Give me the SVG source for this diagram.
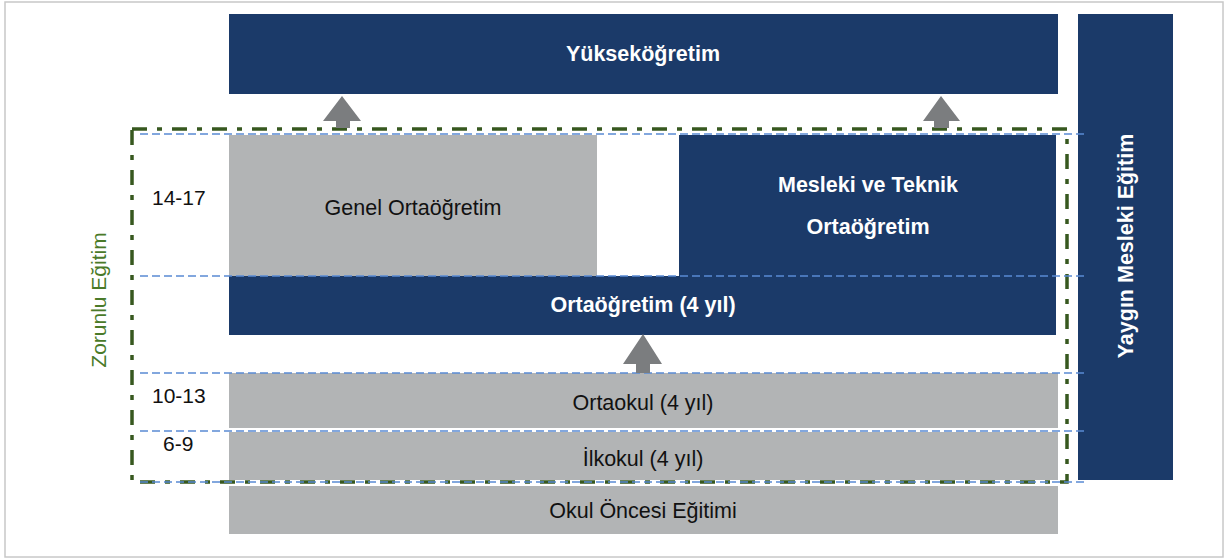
<svg xmlns="http://www.w3.org/2000/svg" width="1225" height="558" viewBox="0 0 1225 558">
<style>
.navy{fill:#1b3a69}
.gray{fill:#b2b4b5}
.arrow{fill:#7b7d7f}
.blue{stroke:#5a8ad4;stroke-width:1.3;stroke-dasharray:8 4;fill:none}
.green{stroke:#37581f;stroke-width:3.5;stroke-dasharray:15 10 5 10;fill:none}
.tw{font-family:"Liberation Sans",Arial,sans-serif;font-size:21.5px;font-weight:bold;fill:#ffffff;text-anchor:middle}
.tb{font-family:"Liberation Sans",Arial,sans-serif;font-size:21.5px;fill:#111111;text-anchor:middle}
.age{font-family:"Liberation Sans",Arial,sans-serif;font-size:21px;fill:#111111}
</style>
<rect x="5" y="2" width="1218" height="555" fill="#ffffff" stroke="#c8c8c8" stroke-width="1.5"/>

<g id="yuksek">
<rect class="navy" x="229" y="14" width="829" height="80"/>
<text class="tw" x="643" y="61">Yükseköğretim</text>
</g>
<g id="yaygin">
<rect class="navy" x="1078" y="14" width="95" height="466"/>
<text class="tw" transform="translate(1133,246) rotate(-90)" x="0" y="0">Yaygın Mesleki Eğitim</text>
</g>
<g id="ortaogretim">
<path class="navy" d="M679,135 H1056 V335 H229 V276 H679 Z"/>
<text class="tw" x="643" y="312">Ortaöğretim (4 yıl)</text>
<text class="tw" x="868" y="192">Mesleki ve Teknik</text>
<text class="tw" x="868" y="234">Ortaöğretim</text>
</g>
<g id="genel">
<rect class="gray" x="229" y="135" width="368" height="141"/>
<text class="tb" x="413" y="215">Genel Ortaöğretim</text>
</g>
<g id="ortaokul">
<rect class="gray" x="229" y="373" width="829" height="55"/>
<text class="tb" x="643" y="410">Ortaokul (4 yıl)</text>
</g>
<g id="ilkokul">
<rect class="gray" x="229" y="432" width="829" height="48"/>
<text class="tb" x="643" y="466">İlkokul (4 yıl)</text>
</g>
<g id="okuloncesi">
<rect class="gray" x="229" y="486" width="829" height="48"/>
<text class="tb" x="643" y="518">Okul Öncesi Eğitimi</text>
</g>
<g id="ages">
<text class="age" x="152" y="205">14-17</text>
<text class="age" x="152" y="403">10-13</text>
<text class="age" x="163" y="451">6-9</text>
</g>
<g id="zorunlu">
<rect class="green" x="132" y="129" width="935" height="353"/>
<text transform="translate(106,300) rotate(-90)" x="0" y="0" font-family="Liberation Sans, Arial, sans-serif" font-size="21" fill="#4a7a29" text-anchor="middle">Zorunlu Eğitim</text>
</g>
<g id="connectors">
<line class="blue" x1="140" y1="134" x2="1088" y2="134"/>
<line class="blue" x1="140" y1="276" x2="1088" y2="276"/>
<line class="blue" x1="140" y1="373" x2="1088" y2="373"/>
<line class="blue" x1="140" y1="431" x2="1088" y2="431"/>
<line class="blue" x1="140" y1="482" x2="1088" y2="482"/>
<path class="arrow" d="M342,96 L361,121 L350,121 L350,128 L336,128 L336,121 L323,121 Z"/>
<path class="arrow" d="M941,96 L960,121 L949,121 L949,128 L934,128 L934,121 L923,121 Z"/>
<path class="arrow" d="M643,334 L662,364 L650,364 L650,373 L636,373 L636,364 L623,364 Z"/>
</g>
</svg>
